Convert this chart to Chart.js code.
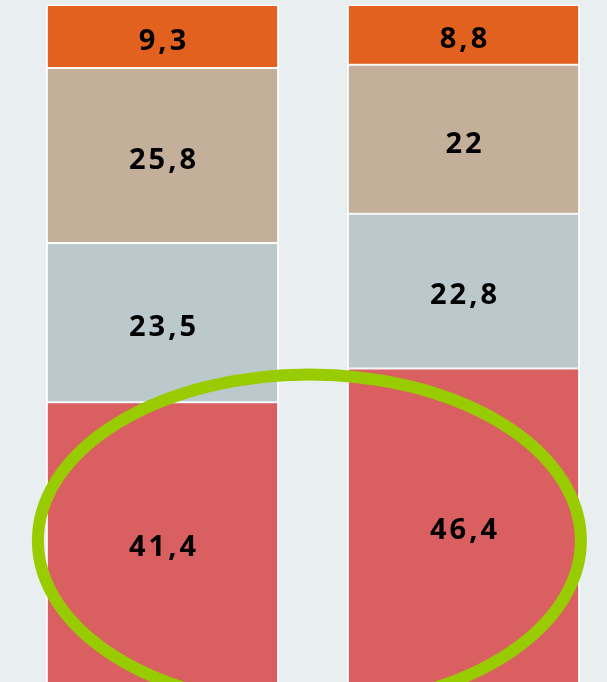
<!DOCTYPE html>
<html>
<head>
<meta charset="utf-8">
<script src="https://cdn.jsdelivr.net/npm/chart.js@4"></script>
<style>
  html, body { margin: 0; padding: 0; overflow: hidden; background: #e9eef0; width: 607px; height: 682px; }
  #wrap { position: absolute; left: 0; top: 0; width: 614px; height: 688px; }
</style>
</head>
<body>
<div id="wrap"><canvas id="c"></canvas></div>
<script>
// ---- data ----
const categories = ['1', '2'];
const seriesBottom = [41.4, 46.4];
const seriesThird  = [23.5, 22.8];
const seriesSecond = [25.8, 22];
const seriesTop    = [9.3, 8.8];

const colors = ['#d95f60', '#bbc8cc', '#c4af9b', '#e2611f'];

function ds(data, color) {
  return {
    data: data,
    backgroundColor: color,
    borderColor: '#ffffff',
    borderWidth: { top: 1, bottom: 1, left: 2, right: 2 },
    borderSkipped: false,
    categoryPercentage: 1,
    barPercentage: 0.775
  };
}

const labelPlugin = {
  id: 'segLabels',
  afterDatasetsDraw(chart) {
    const ctx = chart.ctx;
    ctx.save();
    ctx.font = 'bold 29px "Open Sans"';
    ctx.fillStyle = '#000000';
    ctx.textAlign = 'center';
    ctx.textBaseline = 'middle';
    const sp = 3;
    if ('letterSpacing' in ctx) ctx.letterSpacing = sp + 'px';
    chart.data.datasets.forEach((d, di) => {
      const meta = chart.getDatasetMeta(di);
      meta.data.forEach((el, i) => {
        const v = d.data[i];
        const txt = v.toLocaleString('de-DE');
        const cy = (el.y + el.base) / 2 + 5;
        ctx.fillText(txt, el.x + sp / 2, cy);
      });
    });
    ctx.restore();
  }
};

// annotation ellipse around the bottom segments
const ellipseCenterValue = 21.0;
const ellipseRadiusValue = 24.5;
const ellipseRadiusXFrac = 0.902;
const ellipseCenterXShift = -0.012;

const ellipsePlugin = {
  id: 'ellipse',
  afterDraw(chart) {
    const ctx = chart.ctx;
    const x = chart.scales.x, y = chart.scales.y;
    const p0 = x.getPixelForValue(0), p1 = x.getPixelForValue(1);
    const spacing = p1 - p0;
    const cx = (p0 + p1) / 2 + ellipseCenterXShift * spacing;
    const cy = y.getPixelForValue(ellipseCenterValue);
    const ry = Math.abs(y.getPixelForValue(ellipseCenterValue + ellipseRadiusValue) - cy);
    const rx = ellipseRadiusXFrac * spacing;
    ctx.save();
    ctx.beginPath();
    ctx.ellipse(cx, cy, rx, ry, 0, 0, Math.PI * 2);
    ctx.lineWidth = 12;
    ctx.strokeStyle = '#99cc00';
    ctx.stroke();
    ctx.restore();
  }
};

new Chart(document.getElementById('c'), {
  type: 'bar',
  data: {
    labels: categories,
    datasets: [
      ds(seriesBottom, colors[0]),
      ds(seriesThird, colors[1]),
      ds(seriesSecond, colors[2]),
      ds(seriesTop, colors[3])
    ]
  },
  options: {
    responsive: true,
    maintainAspectRatio: false,
    animation: false,
    layout: { padding: { left: 12, top: 5, right: 0, bottom: 5 } },
    plugins: { legend: { display: false }, tooltip: { enabled: false } },
    scales: {
      x: { display: false, stacked: true, offset: true },
      y: { display: false, stacked: true, min: 0, max: 100 }
    }
  },
  plugins: [labelPlugin, ellipsePlugin]
});
</script>
</body>
</html>
